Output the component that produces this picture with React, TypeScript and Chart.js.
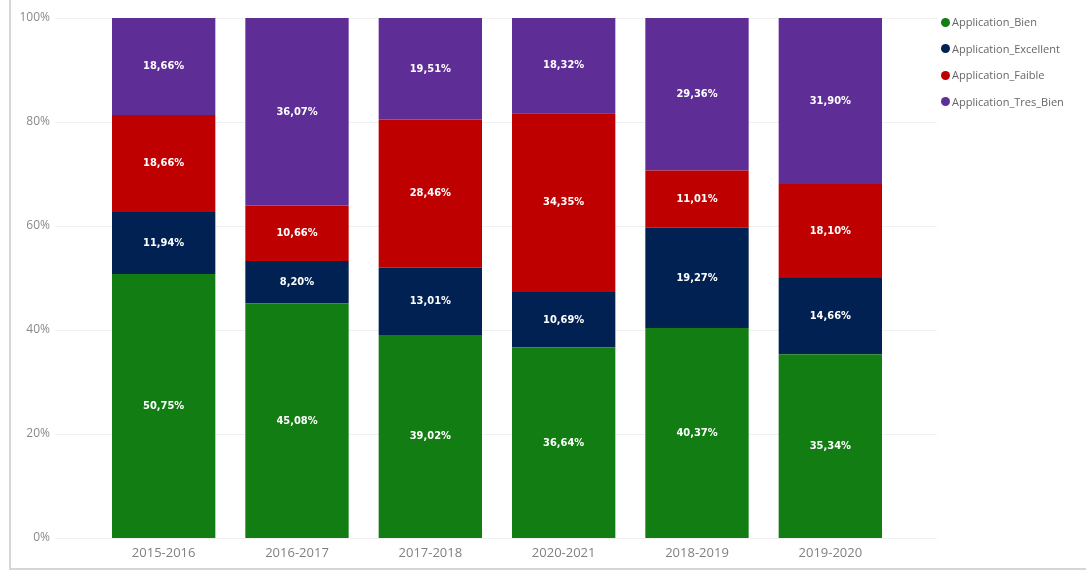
import React, { useEffect, useRef } from "react";
import { Chart, registerables } from "chart.js";

Chart.register(...registerables);

const categories = ["2015-2016", "2016-2017", "2017-2018", "2020-2021", "2018-2019", "2019-2020"];
const bien = [50.75, 45.08, 39.02, 36.64, 40.37, 35.34];
const excellent = [11.94, 8.2, 13.01, 10.69, 19.27, 14.66];
const faible = [18.66, 10.66, 28.46, 34.35, 11.01, 18.1];
const tresBien = [18.66, 36.07, 19.51, 18.32, 29.36, 31.9];
const yTicks = [0, 20, 40, 60, 80, 100];

const seriesNames = ["Application_Bien", "Application_Excellent", "Application_Faible", "Application_Tres_Bien"];
const seriesColors = ["#127D12", "#002152", "#BF0000", "#5E2D96"];

const gridPlugin = {
  id: "extGrid",
  beforeDatasetsDraw(chart: any) {
    const ctx = chart.ctx;
    const y = chart.scales.y;
    ctx.save();
    ctx.strokeStyle = "#f0f0f0";
    ctx.lineWidth = 1;
    yTicks.forEach((v) => {
      const py = Math.round(y.getPixelForValue(v)) + 0.5;
      ctx.beginPath();
      ctx.moveTo(55, py);
      ctx.lineTo(937, py);
      ctx.stroke();
    });
    ctx.restore();
  },
};

const labelPlugin = {
  id: "segLabels",
  afterDatasetsDraw(chart: any) {
    const ctx = chart.ctx;
    ctx.save();
    ctx.fillStyle = "#ffffff";
    ctx.font = "bold 11px 'DejaVu Sans Condensed', 'DejaVu Sans', sans-serif";
    ctx.textAlign = "center";
    ctx.textBaseline = "middle";
    chart.data.datasets.forEach((ds: any, di: number) => {
      const meta = chart.getDatasetMeta(di);
      meta.data.forEach((bar: any, i: number) => {
        const p = bar.getProps(["x", "y", "base"], true);
        const cy = (p.y + p.base) / 2;
        const txt = ds.data[i].toFixed(2).replace(".", ",") + "%";
        ctx.fillText(txt, p.x, cy);
      });
    });
    ctx.restore();
  },
};

export default function App() {
  const ref = useRef<HTMLCanvasElement | null>(null);

  useEffect(() => {
    if (!ref.current) return;
    const data = [bien, excellent, faible, tresBien];
    const chart = new Chart(ref.current, {
      type: "bar",
      data: {
        labels: categories,
        datasets: data.map((d, i) => ({
          label: seriesNames[i],
          data: d,
          backgroundColor: seriesColors[i],
          borderWidth: 0,
          barPercentage: 0.775,
          categoryPercentage: 1,
        })),
      },
      options: {
        animation: false,
        responsive: false,
        maintainAspectRatio: false,
        layout: { padding: { top: 18, right: 189, bottom: 0, left: 0 } },
        plugins: {
          legend: { display: false },
          tooltip: { enabled: false },
        },
        scales: {
          x: {
            stacked: true,
            grid: { display: false, drawTicks: false },
            border: { display: false },
            ticks: {
              color: "#808080",
              font: { family: "'Open Sans', sans-serif", size: 13 },
              padding: 7,
              maxRotation: 0,
            },
            afterFit(scale: any) {
              scale.height = 35;
            },
          },
          y: {
            stacked: true,
            min: 0,
            max: 100,
            afterBuildTicks(scale: any) {
              scale.ticks = yTicks.map((v) => ({ value: v }));
            },
            grid: { display: false, drawTicks: false },
            border: { display: false },
            ticks: {
              color: "#8a8a8a",
              font: { family: "'Open Sans', sans-serif", size: 12 },
              padding: 47,
              callback: (v: any) => v + "%",
            },
            afterFit(scale: any) {
              scale.width = 97;
              scale.paddingTop = 0;
              scale.paddingBottom = 0;
            },
          },
        },
      },
      plugins: [gridPlugin, labelPlugin],
    });
    return () => chart.destroy();
  }, []);

  return (
    <div style={{ position: "absolute", left: 0, top: 0, width: 1086, height: 573, background: "#fff", overflow: "hidden" }}>
      <div style={{ position: "absolute", left: 9, top: 0, width: 2, height: 570, background: "#d6d6d6" }} />
      <div style={{ position: "absolute", left: 9, top: 568, width: 1077, height: 2, background: "#d6d6d6" }} />
      <canvas ref={ref} width={1086} height={573} style={{ position: "absolute", left: 0, top: 0 }} />
      <div style={{ position: "absolute", left: 941, top: 9, fontFamily: "'Open Sans', sans-serif", fontSize: 11, color: "#666" }}>
        {seriesNames.map((n, i) => (
          <div key={n} style={{ display: "flex", alignItems: "center", height: 26.5 }}>
            <span style={{ display: "inline-block", width: 9, height: 9, borderRadius: "50%", background: seriesColors[i], marginRight: 2 }} />
            <span style={{ lineHeight: "16px" }}>{n}</span>
          </div>
        ))}
      </div>
    </div>
  );
}
